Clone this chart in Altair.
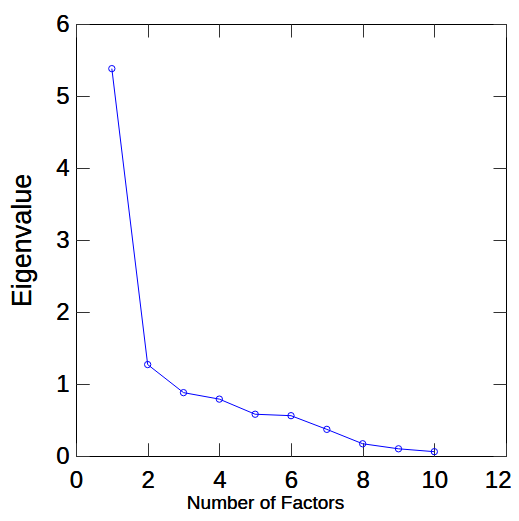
import altair as alt
import pandas as pd

factors = [1, 2, 3, 4, 5, 6, 7, 8, 9, 10]
eigenvalues = [5.38, 1.27, 0.88, 0.79, 0.58, 0.56, 0.37, 0.17, 0.10, 0.06]
x_ticks = [0, 2, 4, 6, 8, 10, 12]
y_ticks = [0, 1, 2, 3, 4, 5, 6]

df = pd.DataFrame({"factor": factors, "eigen": eigenvalues})

BLUE = "#0000ff"
TICK = "#333333"

xscale = alt.Scale(domain=[0, 12], nice=False, zero=False)
yscale = alt.Scale(domain=[0, 6], nice=False, zero=False)

x_main = alt.X(
    "factor:Q", scale=xscale,
    axis=alt.Axis(
        orient="bottom", values=x_ticks, offset=-13, tickSize=13, domain=False,
        tickColor=TICK, tickWidth=1, labelFont="Liberation Sans", labelFontSize=24,
        labelColor="black", labelPadding=12, grid=False, labelFlush=False,
        labelBound=False,
        labelAlign={"condition": {"test": "datum.value == 12", "value": "right"}, "value": "center"},
        labelOffset={"condition": {"test": "datum.value == 12", "value": 5}, "value": 0},
        title="Number of Factors", titleFont="Liberation Sans", titleFontSize=19,
        titleFontWeight="normal", titleColor="black", titleX=189, titleY=65,
        titleAlign="center", titleBaseline="alphabetic",
    ),
)
y_main = alt.Y(
    "eigen:Q", scale=yscale,
    axis=alt.Axis(
        orient="left", values=y_ticks, offset=-13, tickSize=13, domain=False,
        tickColor=TICK, tickWidth=1, labelFont="Liberation Sans", labelFontSize=24,
        labelColor="black", labelPadding=7, grid=False, labelFlush=False,
        labelBound=False,
        title="Eigenvalue", titleFont="Liberation Sans", titleFontSize=27,
        titleFontWeight="normal", titleColor="black", titleAngle=-90,
        titleX=-67, titleY=216, titleAlign="center", titleBaseline="middle",
    ),
)

line = alt.Chart(df).mark_line(color=BLUE, strokeWidth=1).encode(x=x_main, y=y_main)
pts = alt.Chart(df).mark_point(
    shape="circle", filled=False, color=BLUE, size=40, strokeWidth=1, opacity=1
).encode(x=x_main, y=y_main)

mirror = alt.Chart(df).mark_point(opacity=0).encode(
    x=alt.X("factor:Q", scale=xscale, axis=alt.Axis(
        orient="top", values=x_ticks, offset=-13, tickSize=13, domain=False,
        tickColor=TICK, labels=False, title=None, grid=False)),
    y=alt.Y("eigen:Q", scale=yscale, axis=alt.Axis(
        orient="right", values=y_ticks, offset=-13, tickSize=13, domain=False,
        tickColor=TICK, labels=False, title=None, grid=False)),
)

chart = (
    alt.layer(line, pts, mirror)
    .resolve_axis(x="independent", y="independent")
    .properties(
        width=430, height=432,
        autosize=alt.AutoSizeParams(type="none"),
        padding={"left": 68, "top": 16, "right": 5, "bottom": 57},
        background="white",
    )
    .configure_view(stroke="black", strokeWidth=1)
)

chart.save("out.html", embed_options={"renderer": "svg", "actions": False})
